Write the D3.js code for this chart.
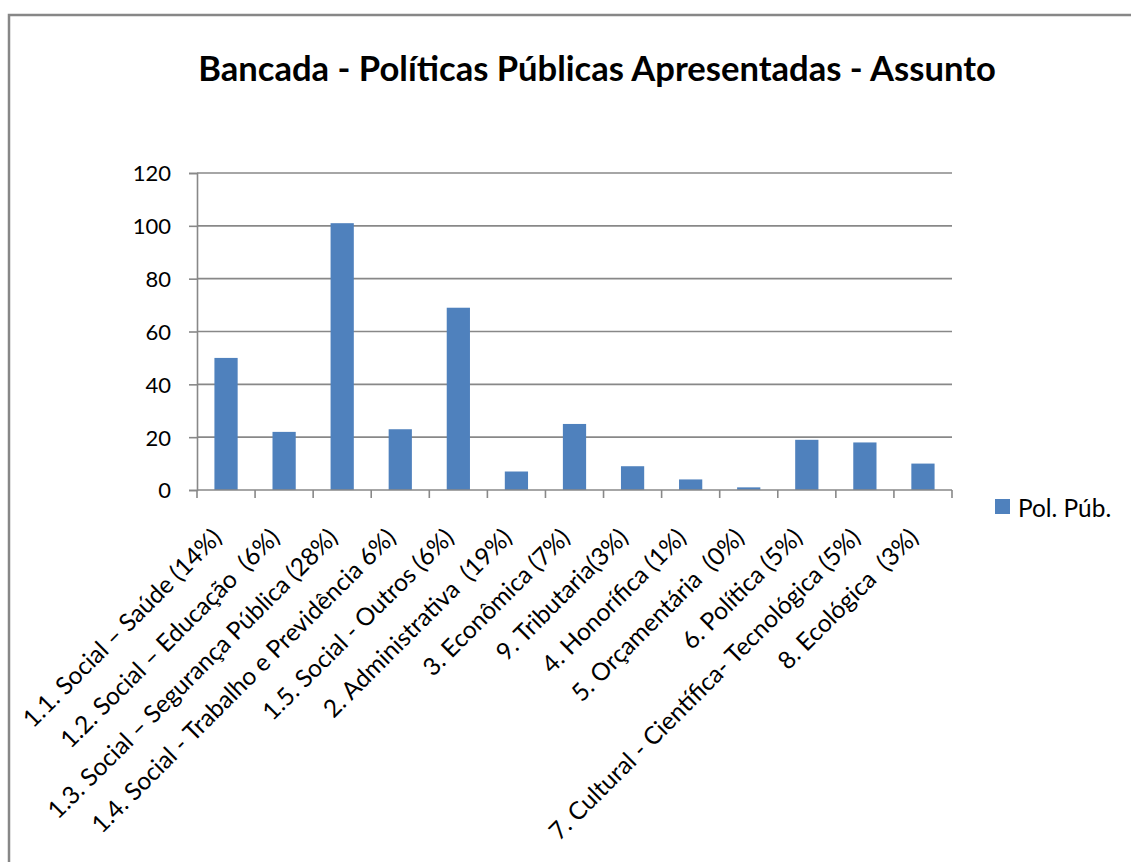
<!DOCTYPE html>
<html>
<head>
<meta charset="utf-8">
<script src="https://cdn.jsdelivr.net/npm/d3@7"></script>
<style>
  html, body { margin: 0; padding: 0; background: #fff; }
  svg { display: block; }
  text { font-family: Lato, "Open Sans", sans-serif; fill: #000; white-space: pre; }
</style>
</head>
<body>
<svg id="chart" width="1131" height="862"></svg>
<script>
// Policy proposals by subject
const categories = [
  "1.1. Social – Saúde (14%)",
  "1.2. Social – Educação  (6%)",
  "1.3. Social – Segurança Pública (28%)",
  "1.4. Social - Trabalho e Previdência 6%)",
  "1.5. Social - Outros (6%)",
  "2. Administrativa  (19%)",
  "3. Econômica (7%)",
  "9. Tributaria(3%)",
  "4. Honorífica (1%)",
  "5. Orçamentária  (0%)",
  "6. Política (5%)",
  "7. Cultural - Científica- Tecnológica (5%)",
  "8. Ecológica  (3%)"
];
const values = [50, 22, 101, 23, 69, 7, 25, 9, 4, 1, 19, 18, 10];
const yTicks = [0, 20, 40, 60, 80, 100, 120];
const seriesName = "Pol. Púb.";
const title = "Bancada - Políticas Públicas Apresentadas - Assunto";

const svg = d3.select("#chart");
const plot = { left: 197, right: 952, top: 173, bottom: 490 };
const gridColor = "#888888";
const barColor = "#4f81bd";

// outer frame (runs off the right and bottom edges)
svg.append("rect")
  .attr("x", 9).attr("y", 15)
  .attr("width", 1200).attr("height", 900)
  .attr("fill", "none").attr("stroke", "#878787").attr("stroke-width", 2.5);

// title
svg.append("text")
  .attr("x", 597).attr("y", 81)
  .attr("text-anchor", "middle")
  .style("font-weight", "bold")
  .style("font-size", "34.6px")
  .text(title);

const x = d3.scaleBand()
  .domain(categories)
  .range([plot.left, plot.right])
  .paddingInner(0.6)
  .paddingOuter(0.3);

const y = d3.scaleLinear()
  .domain([0, 120])
  .range([plot.bottom, plot.top]);

// horizontal gridlines
svg.append("g")
  .selectAll("line")
  .data(yTicks.filter(d => d > 0))
  .join("line")
  .attr("x1", plot.left).attr("x2", plot.right)
  .attr("y1", d => y(d)).attr("y2", d => y(d))
  .attr("stroke", gridColor).attr("stroke-width", 1.6);

// y axis
const yAxis = svg.append("g")
  .attr("transform", `translate(${plot.left},0)`)
  .call(d3.axisLeft(y).tickValues(yTicks).tickSize(8).tickPadding(18));
yAxis.select(".domain").attr("stroke", gridColor).attr("stroke-width", 1.6);
yAxis.selectAll(".tick line").attr("stroke", gridColor).attr("stroke-width", 1.6);
yAxis.selectAll(".tick text")
  .style("font-size", "22px")
  .attr("dy", "0.36em");

// bars
svg.append("g")
  .selectAll("rect")
  .data(values)
  .join("rect")
  .attr("x", (d, i) => x(categories[i]))
  .attr("width", x.bandwidth())
  .attr("y", d => y(d))
  .attr("height", d => y(0) - y(d))
  .attr("fill", barColor);

// x axis line and category boundary ticks
const step = x.step();
const bounds = categories.map(c => x(c) - step * x.paddingInner() / 2);
bounds.push(plot.right);
svg.append("line")
  .attr("x1", plot.left).attr("x2", plot.right)
  .attr("y1", y(0)).attr("y2", y(0))
  .attr("stroke", gridColor).attr("stroke-width", 1.6);
svg.append("g")
  .selectAll("line")
  .data(bounds)
  .join("line")
  .attr("x1", d => d).attr("x2", d => d)
  .attr("y1", y(0)).attr("y2", y(0) + 8)
  .attr("stroke", gridColor).attr("stroke-width", 1.6);

// rotated category labels, ending just under each category
svg.append("g")
  .selectAll("text")
  .data(categories)
  .join("text")
  .attr("text-anchor", "end")
  .attr("transform", d => `translate(${x(d) + x.bandwidth() / 2 - 3},${y(0) + 49}) rotate(-45)`)
  .style("font-size", "24.5px")
  .text(d => d);

// legend
const legend = svg.append("g").attr("transform", "translate(995,499)");
legend.append("rect")
  .attr("width", 15).attr("height", 15)
  .attr("fill", barColor);
legend.append("text")
  .attr("x", 23).attr("y", 17.5)
  .style("font-size", "24.4px")
  .text(seriesName);
</script>
</body>
</html>
